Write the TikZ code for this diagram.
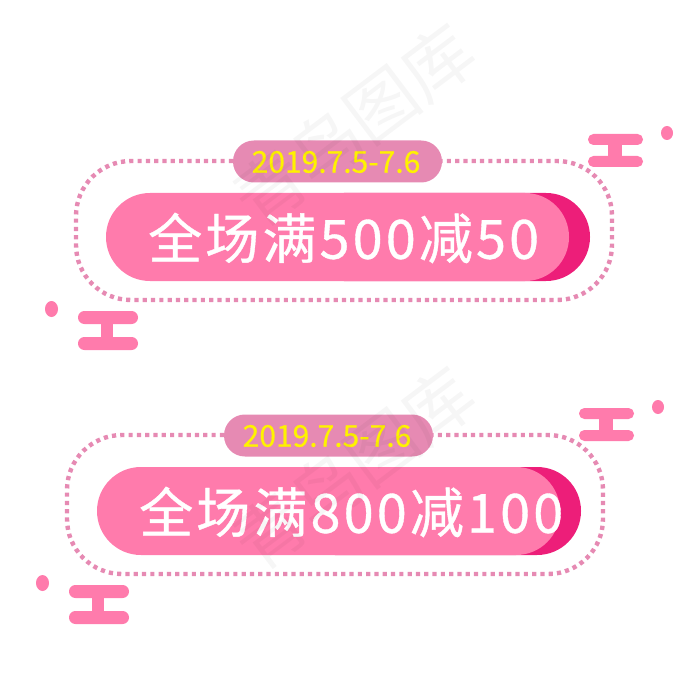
\documentclass[tikz,border=0pt]{standalone}
\usepackage{fontspec}
\setmainfont{Noto Sans CJK SC}
\definecolor{pinkA}{HTML}{FF7BAC}
\definecolor{pinkB}{HTML}{ED1E79}
\definecolor{pinkC}{HTML}{E68AB3}
\tikzset{
  x=1pt,y=-1pt,
  dotbox/.style={draw=pinkC,line width=4.4pt,dash pattern=on 4.2pt off 4.1pt,rounded corners=55pt},
  wm/.style={rotate=37,text=black,opacity=0.035,font=\fontsize{70}{70}\selectfont,inner sep=0pt},
}
\newcommand{\coupon}[3]{%
  \begin{scope}[shift={(#1)}]
    % dotted frame
    \draw[dotbox] (233,161) -- (76,161) -- (76,300) -- (612,300) -- (612,161) -- (442,161);
    % date pill
    \fill[pinkC,rounded corners=20.9pt] (233,140.5) rectangle (442,182.5);
    \node[text=yellow,font=\fontsize{30}{30}\selectfont\addfontfeature{FakeBold=0.4},inner sep=0pt] (date#3) at (336,162) {2019.7.5-7.6};
    % main pill
    \fill[pinkB,rounded corners=43.9pt] (300,193) rectangle (590,281);
    \fill[pinkA,rounded corners=43.9pt] (106,193) rectangle (569,281);
    \node[text=white,font=\fontsize{54}{54}\selectfont\addfontfeature{LetterSpace=5.8,FakeBold=0.7},inner sep=0pt,anchor=west] (main#3) at (148,238) {#2};
    % decorations
    \fill[pinkA,rounded corners=5.4pt] (588,134) rectangle (643,145);
    \fill[pinkA,rounded corners=5.4pt] (588,156) rectangle (643,167);
    \fill[pinkA] (608,140) rectangle (622,160);
    \fill[pinkA] (667,133) ellipse[x radius=6,y radius=7];
    \fill[pinkA,rounded corners=6.4pt] (78,311) rectangle (138,324);
    \fill[pinkA,rounded corners=6.4pt] (78,337) rectangle (138,350);
    \fill[pinkA] (101,318) rectangle (113,343);
    \fill[pinkA] (51.5,309) ellipse[x radius=6.5,y radius=8];
  \end{scope}}
\begin{document}
\begin{tikzpicture}
\useasboundingbox (0,0) rectangle (700,700);
\coupon{0,0}{全场满500减50}{a}
\coupon{-9,274}{全场满800减100}{b}
\node[wm] (wma) at (354,125) {青鸟图库};
\node[wm] (wmb) at (354,468) {青鸟图库};
\end{tikzpicture}
\end{document}
